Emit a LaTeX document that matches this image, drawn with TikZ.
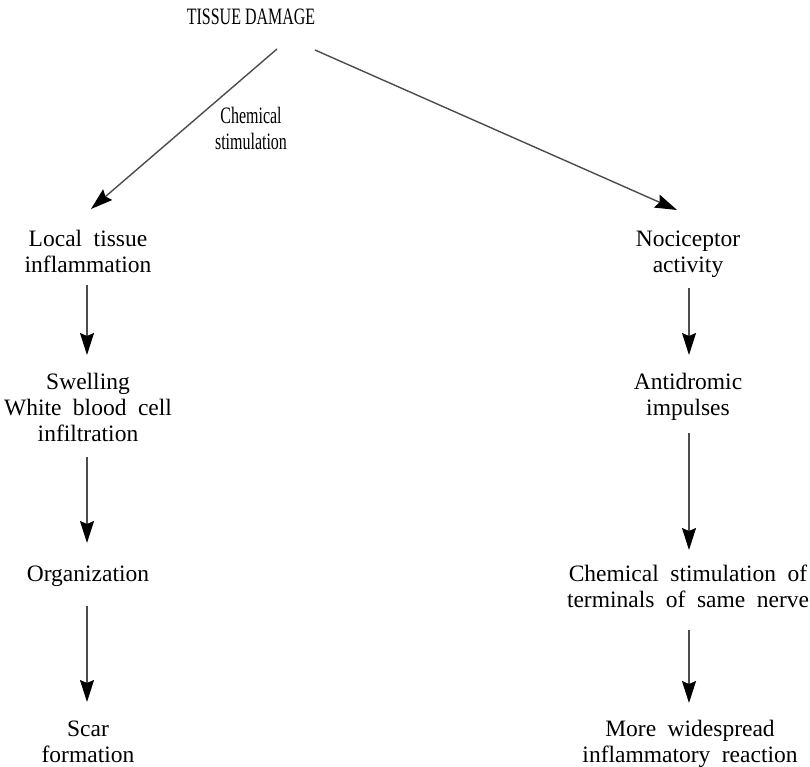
\documentclass[tikz,border=0pt]{standalone}
\usepackage{fontspec}
\setmainfont{Liberation Serif}
\usetikzlibrary{arrows.meta}
\newcommand{\squeezed}[1]{\scalebox{0.68}[1]{\spaceskip=0pt\relax #1}}
\newcommand{\labfont}{\fontsize{23.5}{26}\selectfont\spaceskip=11.5pt plus 2pt\relax}
\begin{document}
\begin{tikzpicture}[x=1pt,y=-1pt,
  lbl/.style={inner sep=0pt, align=center, anchor=base, font=\labfont},
  arr/.style={draw=black!70, line width=1.4pt,
    -{Stealth[length=22pt,width=14pt,inset=3pt,color=black]}}]
\useasboundingbox (0,0) rectangle (810,767);

% source and side note (each node sits on the baseline of its last line)
\node[lbl] (dmg)  at (251,25)  {\squeezed{TISSUE DAMAGE}};
\node[lbl] (chem) at (251,150) {\squeezed{Chemical}\\\squeezed{stimulation}};

% left branch
\node[lbl] (loc)   at (88,272) {Local tissue\\inflammation};
\node[lbl] (swell) at (88,441) {Swelling\\White blood cell\\infiltration};
\node[lbl] (org)   at (88,581) {Organization};
\node[lbl] (scar)  at (88,762) {Scar\\formation};

% right branch
\node[lbl] (noci)  at (688,272) {Nociceptor\\activity};
\node[lbl] (anti)  at (688,415) {Antidromic\\impulses};
\node[lbl] (chst)  at (688,607) {Chemical stimulation of\\terminals of same nerve};
\node[lbl] (more)  at (690,762) {More widespread\\inflammatory reaction};

% connectors
\draw[arr] ([xshift=26pt,yshift=-24pt]dmg.base) -- ([xshift=3pt,yshift=63pt]loc.base);
\draw[arr] ([xshift=64pt,yshift=-25pt]dmg.base) -- ([xshift=-11pt,yshift=62pt]noci.base);

\draw[arr] ([xshift=-1pt,yshift=-13pt]loc.base) -- ([xshift=-1pt,yshift=86pt]swell.base);
\draw[arr] ([xshift=-1pt,yshift=-16pt]swell.base) -- ([xshift=-1pt,yshift=38pt]org.base);
\draw[arr] ([xshift=-1pt,yshift=-25pt]org.base) -- ([xshift=-1pt,yshift=60pt]scar.base);

\draw[arr] ([xshift=1pt,yshift=-16pt]noci.base) -- ([xshift=1pt,yshift=60pt]anti.base);
\draw[arr] ([xshift=1pt,yshift=-18pt]anti.base) -- ([xshift=1pt,yshift=57pt]chst.base);
\draw[arr] ([xshift=1pt,yshift=-23pt]chst.base) -- ([xshift=-1pt,yshift=59pt]more.base);
\end{tikzpicture}
\end{document}
